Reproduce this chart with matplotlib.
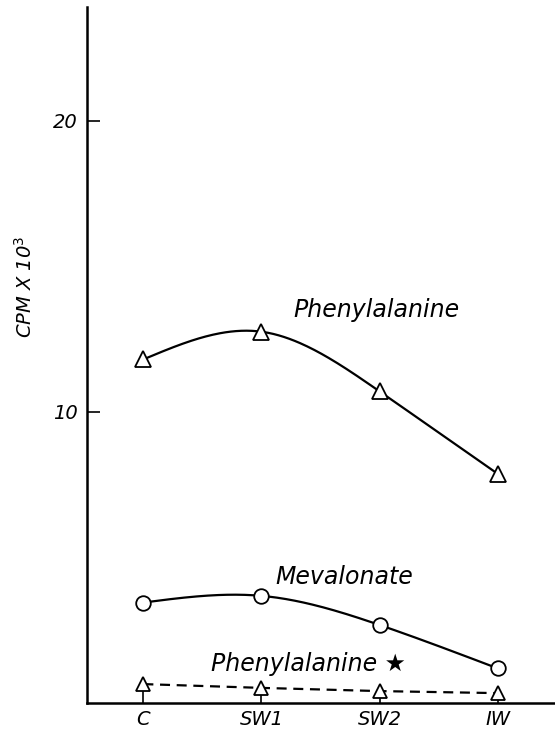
import numpy as np
import matplotlib
matplotlib.use("Agg")
import matplotlib.pyplot as plt

categories = ["C", "SW1", "SW2", "IW"]
phenylalanine = [11.8, 12.75, 10.7, 7.87]
mevalonate = [3.45, 3.68, 2.68, 1.19]
phenylalanine_star = [0.65, 0.52, 0.41, 0.34]
y_ticks = [10, 20]
y_tick_labels = ["10", "20"]


def natural_spline(x, y, n=200):
    x = np.asarray(x, float)
    y = np.asarray(y, float)
    k = len(x)
    h = np.diff(x)
    A = np.zeros((k, k))
    b = np.zeros(k)
    A[0, 0] = A[-1, -1] = 1
    for i in range(1, k - 1):
        A[i, i - 1] = h[i - 1]
        A[i, i] = 2 * (h[i - 1] + h[i])
        A[i, i + 1] = h[i]
        b[i] = 6 * ((y[i + 1] - y[i]) / h[i] - (y[i] - y[i - 1]) / h[i - 1])
    M = np.linalg.solve(A, b)
    xs = np.linspace(x[0], x[-1], n)
    ys = np.empty_like(xs)
    for j, t in enumerate(xs):
        i = min(np.searchsorted(x, t, side="right") - 1, k - 2)
        a, c = x[i], x[i + 1]
        hh = c - a
        ys[j] = (M[i] * (c - t) ** 3 / (6 * hh) + M[i + 1] * (t - a) ** 3 / (6 * hh)
                 + (y[i] / hh - M[i] * hh / 6) * (c - t)
                 + (y[i + 1] / hh - M[i + 1] * hh / 6) * (t - a))
    return xs, ys


fig = plt.figure(figsize=(5.55, 7.36), dpi=100)
ax = fig.add_axes([0.1568, 0.0448, 1 - 0.1568, 0.9905 - 0.0448])

x = np.arange(len(categories))
fs = "italic"

xs, ys = natural_spline(x, phenylalanine)
ax.plot(xs, ys, color="black", lw=1.6, zorder=2)
ax.plot(x, phenylalanine, ls="none", marker="^", ms=11, mfc="white", mec="black", mew=1.3, zorder=3)

xs, ys = natural_spline(x, mevalonate)
ax.plot(xs, ys, color="black", lw=1.6, zorder=2)
ax.plot(x, mevalonate, ls="none", marker="o", ms=10.5, mfc="white", mec="black", mew=1.3, zorder=3)

ax.plot(x, phenylalanine_star, color="black", lw=1.6, ls=(0, (4.5, 3)), zorder=2)
ax.plot(x, phenylalanine_star, ls="none", marker="^", ms=10, mfc="white", mec="black", mew=1.3, zorder=3)

ax.text(1.97, 13.5, "Phenylalanine", ha="center", va="center", fontsize=17, style=fs)
ax.text(1.70, 4.33, "Mevalonate", ha="center", va="center", fontsize=17, style=fs)
ax.text(1.40, 1.34, "Phenylalanine \u2605", ha="center", va="center", fontsize=17, style=fs)

ax.set_xlim(-0.477, 3.485)
ax.set_ylim(0, 23.9)
ax.set_xticks(x)
ax.set_xticklabels(categories, fontsize=14, style=fs)
ax.set_yticks(y_ticks)
ax.set_yticklabels(y_tick_labels, fontsize=14, style=fs)
ax.tick_params(axis="both", direction="in", length=9, width=1.2, pad=5)
ax.tick_params(axis="y", pad=7)
ax.spines["top"].set_visible(False)
ax.spines["right"].set_visible(False)
ax.spines["left"].set_linewidth(1.8)
ax.spines["bottom"].set_linewidth(1.8)

fig.text(25 / 555, 1 - 287 / 736, "CPM X 10$^{3}$", rotation=90, ha="center", va="center",
         fontsize=14, style=fs)

fig.savefig("out.png", dpi=100)
